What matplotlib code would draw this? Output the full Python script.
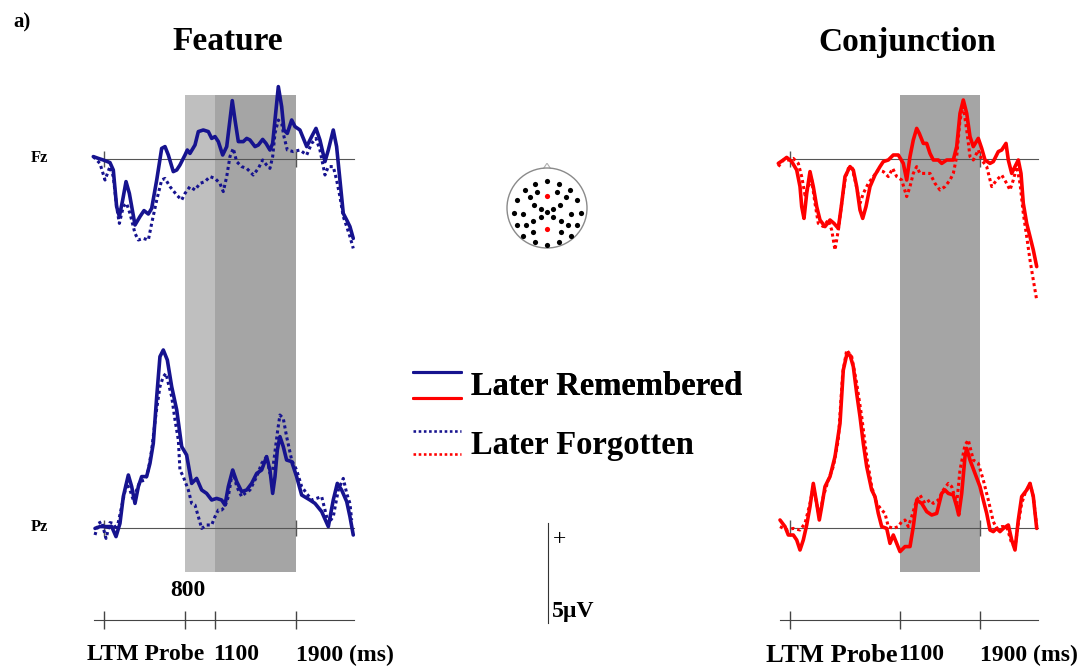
import matplotlib
matplotlib.use("Agg")
import matplotlib.pyplot as plt
from matplotlib.legend_handler import HandlerBase
from matplotlib.lines import Line2D
from matplotlib.patches import Circle, Polygon

plt.rcParams["font.family"] = ["Liberation Serif", "DejaVu Serif"]
plt.rcParams["font.weight"] = "bold"

# Grand-average ERPs (ms, microvolts), positive up
feat_fz_rem_t = [-106, -56, -7, 59, 92, 125, 152, 185, 218, 251, 307, 356, 396, 439, 472, 522, 571, 604, 637,
                 686, 720, 752, 802, 825, 851, 901, 934, 983, 1033, 1066, 1099, 1132, 1175, 1215, 1247, 1270,
                 1297, 1330, 1379, 1413, 1445, 1495, 1528, 1571, 1604, 1643, 1670, 1693, 1726, 1759, 1782, 1815,
                 1858, 1891, 1940, 2007, 2056, 2099, 2138, 2188, 2221, 2270, 2303, 2336, 2369, 2403, 2435, 2468]
feat_fz_rem_uv = [0.12, 0.03, -0.05, -0.18, -0.55, -2.38, -2.88, -2.05, -1.13, -1.72, -3.3, -2.88, -2.58, -2.75,
                  -2.47, -1.05, 0.53, 0.62, 0.2, -0.63, -0.55, -0.3, 0.2, 0.45, 0.28, 0.7, 1.37, 1.45, 1.37, 1.03,
                  1.12, 0.87, 0.2, 0.62, 1.95, 2.92, 1.95, 0.87, 0.87, 1.03, 0.95, 0.62, 0.7, 0.98, 0.78, 0.45,
                  0.78, 1.95, 3.62, 2.62, 1.45, 1.28, 1.95, 1.62, 1.45, 0.62, 1.12, 1.53, 0.95, -0.13, 0.45, 1.45,
                  0.62, -1.05, -2.72, -3.05, -3.38, -3.97]
feat_fz_fgt_t = [-106, -40, 10, 59, 92, 125, 152, 191, 224, 257, 307, 340, 389, 439, 472, 522, 571, 604, 653,
                 720, 769, 802, 851, 901, 950, 1000, 1049, 1099, 1148, 1181, 1215, 1247, 1280, 1313, 1363, 1413,
                 1478, 1528, 1571, 1610, 1643, 1670, 1693, 1726, 1759, 1782, 1815, 1874, 1940, 2007, 2056, 2099,
                 2138, 2188, 2221, 2270, 2303, 2336, 2369, 2403, 2435, 2468]
feat_fz_fgt_uv = [0.12, -0.22, -1.05, -0.38, -0.88, -2.38, -3.22, -2.38, -2.22, -2.72, -3.72, -4.05, -3.97, -4.05,
                  -3.22, -2.05, -1.05, -0.97, -1.38, -1.8, -2.05, -1.72, -1.38, -1.55, -1.22, -1.13, -0.88, -0.97,
                  -1.22, -1.63, -0.88, 0.12, 0.53, -0.13, -0.38, -0.47, -0.8, -0.47, -0.05, -0.3, -0.47, 0.12,
                  1.28, 1.95, 1.78, 1.12, 0.45, 0.37, 0.45, 0.2, 0.78, 1.03, 0.45, -0.8, -0.38, -0.38, -1.05,
                  -1.88, -2.88, -3.38, -3.88, -4.47]

feat_pz_rem_t = [-89, -40, 10, 76, 119, 158, 191, 241, 274, 307, 340, 373, 422, 455, 488, 522, 554, 587, 627,
                 670, 720, 769, 818, 868, 917, 967, 1016, 1066, 1115, 1165, 1198, 1231, 1274, 1314, 1363, 1413,
                 1462, 1512, 1561, 1610, 1643, 1670, 1693, 1716, 1742, 1775, 1808, 1858, 1907, 1957, 2039, 2089,
                 2155, 2221, 2270, 2310, 2353, 2403, 2435, 2468]
feat_pz_rem_uv = [-0.02, 0.07, 0.07, 0.07, -0.43, 0.23, 1.57, 2.65, 2.07, 1.23, 2.07, 2.57, 2.57, 3.23, 4.23,
                  6.57, 8.57, 8.9, 8.4, 7.07, 5.9, 4.07, 3.65, 2.23, 2.48, 1.9, 1.73, 1.4, 1.48, 1.4, 1.15, 2.07,
                  2.9, 2.32, 1.82, 1.9, 2.23, 2.73, 2.9, 3.57, 2.9, 1.73, 2.57, 3.9, 4.57, 4.07, 3.4, 3.32, 2.57,
                  1.65, 1.4, 1.23, 0.82, 0.07, 1.4, 2.23, 1.9, 1.32, 0.57, -0.35]
feat_pz_fgt_t = [-89, -56, -23, 20, 59, 92, 125, 175, 224, 257, 290, 323, 356, 406, 439, 472, 515, 554, 587,
                 614, 637, 670, 703, 736, 752, 785, 835, 868, 901, 934, 967, 1016, 1066, 1099, 1132, 1165, 1198,
                 1231, 1274, 1314, 1363, 1396, 1445, 1478, 1512, 1561, 1610, 1643, 1670, 1720, 1742, 1775, 1808,
                 1858, 1907, 1957, 2006, 2056, 2105, 2155, 2221, 2270, 2320, 2369, 2403, 2435, 2452]
feat_pz_fgt_uv = [-0.35, 0.23, 0.32, -0.52, 0.27, 0.23, -0.1, 1.07, 2.23, 1.9, 1.4, 1.9, 2.32, 2.4, 2.9, 3.9,
                  5.73, 7.07, 7.57, 7.73, 7.23, 6.57, 5.4, 4.4, 2.9, 2.57, 1.9, 1.23, 1.15, 0.57, -0.02, 0.15,
                  0.15, 0.57, 0.9, 0.9, 1.07, 1.57, 2.9, 2.07, 1.57, 1.73, 1.9, 2.23, 2.57, 3.23, 3.57, 2.73,
                  2.9, 4.9, 5.65, 5.48, 4.57, 3.4, 2.9, 2.07, 1.73, 1.4, 1.48, 1.57, 0.23, 0.57, 1.9, 2.48, 1.73,
                  1.23, 0.4]

conj_fz_rem_t = [-117, -67, -33, 17, 67, 100, 117, 140, 167, 200, 233, 267, 300, 350, 400, 440, 483, 517, 550,
                 600, 633, 667, 700, 727, 760, 800, 850, 900, 933, 983, 1033, 1083, 1133, 1167, 1200, 1233, 1267,
                 1293, 1333, 1367, 1400, 1433, 1483, 1517, 1567, 1633, 1667, 1700, 1733, 1767, 1800, 1833, 1883,
                 1917, 1950, 2000, 2033, 2083, 2117, 2160, 2183, 2217, 2250, 2283, 2310, 2333, 2367, 2400, 2433,
                 2467]
conj_fz_rem_uv = [-0.22, -0.05, 0.08, -0.13, -0.55, -1.38, -2.38, -2.97, -1.72, -0.63, -1.38, -2.38, -3.05,
                  -3.38, -3.05, -3.22, -3.47, -2.22, -0.88, -0.38, -0.55, -1.38, -2.55, -2.97, -2.38, -1.38, -0.8,
                  -0.38, -0.13, -0.05, 0.2, 0.2, -0.22, -1.05, 0.12, 0.95, 1.53, 1.28, 0.78, 0.78, 0.28, -0.05,
                  -0.05, -0.22, -0.05, -0.05, 0.62, 2.28, 2.95, 2.28, 1.12, 0.62, 1.03, 0.53, -0.05, -0.22, -0.13,
                  0.37, 0.45, 0.78, -0.05, -0.72, -0.38, -0.05, -0.72, -2.22, -3.22, -3.88, -4.55, -5.38]
conj_fz_fgt_t = [-117, -67, -17, 33, 83, 117, 150, 183, 217, 250, 283, 333, 383, 417, 450, 483, 517, 550, 583,
                 617, 650, 700, 733, 783, 833, 883, 933, 983, 1027, 1067, 1117, 1167, 1200, 1233, 1267, 1300,
                 1350, 1400, 1450, 1500, 1550, 1600, 1633, 1667, 1700, 1733, 1767, 1800, 1833, 1883, 1917, 1967,
                 2017, 2067, 2117, 2167, 2200, 2233, 2267, 2300, 2333, 2367, 2400, 2433, 2467]
conj_fz_fgt_uv = [-0.38, -0.05, -0.05, 0.03, -0.22, -0.88, -1.8, -1.38, -1.05, -2.22, -3.22, -3.38, -3.05,
                  -3.55, -4.55, -3.55, -2.22, -1.05, -0.47, -0.38, -1.05, -2.22, -1.72, -1.22, -0.88, -0.55,
                  -0.63, -0.88, -0.47, -0.88, -1.05, -1.88, -1.38, -0.72, -0.38, -0.72, -0.72, -0.72, -1.22,
                  -1.55, -1.38, -1.05, -0.72, 0.12, 1.95, 2.62, 1.45, 0.12, -0.05, 0.45, -0.05, -0.38, -1.38,
                  -1.05, -0.8, -1.22, -1.55, -1.05, -0.38, -1.22, -2.72, -3.88, -5.05, -6.05, -7.05]

conj_pz_rem_t = [-100, -50, -17, 33, 67, 100, 133, 167, 200, 233, 267, 293, 317, 350, 400, 450, 500, 533, 567,
                 600, 633, 667, 700, 733, 767, 817, 850, 883, 917, 967, 1000, 1033, 1067, 1100, 1150, 1200, 1233,
                 1267, 1317, 1367, 1417, 1467, 1517, 1550, 1583, 1633, 1667, 1687, 1717, 1750, 1767, 1800, 1850,
                 1900, 1933, 1967, 2000, 2033, 2067, 2100, 2133, 2183, 2217, 2250, 2283, 2317, 2367, 2400, 2433,
                 2467]
conj_pz_rem_uv = [0.4, 0.07, -0.35, -0.35, -0.6, -1.1, -0.6, 0.15, 1.07, 2.23, 1.23, 0.4, 1.07, 2.07, 2.57,
                  3.57, 5.23, 7.9, 8.65, 8.65, 8.07, 6.73, 5.57, 4.23, 3.07, 1.9, 1.57, 0.73, 0.07, -0.02, -0.77,
                  -0.35, -0.77, -1.18, -0.93, -0.93, 0.07, 1.4, 1.23, 0.82, 0.65, 0.73, 1.73, 1.9, 1.73, 1.65,
                  1.07, 0.65, 1.73, 3.57, 3.98, 3.4, 2.73, 2.07, 1.4, 0.73, -0.1, -0.18, -0.02, -0.18, -0.02,
                  0.15, -0.6, -1.1, 0.4, 1.57, 1.9, 2.23, 1.57, -0.02]
conj_pz_fgt_t = [-100, -33, 33, 100, 150, 200, 233, 267, 293, 333, 383, 433, 483, 527, 567, 617, 667, 717, 767,
                 817, 867, 917, 950, 983, 1033, 1083, 1117, 1150, 1183, 1217, 1267, 1300, 1350, 1400, 1433, 1483,
                 1533, 1583, 1617, 1667, 1700, 1750, 1783, 1833, 1883, 1933, 1983, 2033, 2067, 2117, 2167, 2217,
                 2250, 2283, 2317, 2350, 2400, 2433, 2467]
conj_pz_fgt_uv = [0.07, -0.1, -0.02, -0.1, 0.23, 1.23, 2.07, 1.23, 0.57, 1.57, 2.4, 3.07, 4.4, 7.73, 8.9, 8.57,
                  7.23, 5.57, 3.57, 2.07, 1.23, 0.9, 0.73, 0.07, -0.02, 0.07, 0.32, 0.4, 0.07, 0.57, 1.4, 1.65,
                  1.23, 1.4, 1.23, 1.4, 1.9, 2.23, 2.07, 1.23, 2.9, 4.15, 4.4, 3.4, 3.23, 2.4, 1.4, 0.32, -0.02,
                  0.07, 0.07, -0.77, -0.93, 0.23, 1.23, 1.73, 2.23, 1.57, 0.07]

# Analysis windows (ms)
feat_windows = [(800, 1100), (1100, 1900)]
conj_windows = [(1100, 1900)]
feat_ticks = [0, 800, 1100, 1900]
conj_ticks = [0, 1100, 1900]

# Electrode montage on the head map, red marks Fz and Pz
elec_x = [0.0, -0.29, 0.30, -0.56, 0.57, -0.25, 0.25, -0.43, 0.48, -0.74, 0.75, -0.33, 0.33, -0.16, 0.16,
          -0.82, -0.60, 0.0, 0.61, 0.84, -0.16, 0.16, -0.34, 0.35, -0.75, -0.53, 0.53, 0.75, -0.35, 0.35,
          -0.60, 0.59, -0.29, 0.0, 0.30]
elec_y = [0.68, 0.60, 0.61, 0.45, 0.45, 0.39, 0.41, 0.27, 0.27, 0.19, 0.19, 0.08, 0.08, -0.02, -0.02,
          -0.12, -0.16, -0.11, -0.16, -0.12, -0.22, -0.22, -0.33, -0.33, -0.43, -0.43, -0.43, -0.43, -0.59,
          -0.59, -0.70, -0.70, -0.86, -0.92, -0.86]
fz_pz_x = [0.0, 0.0]
fz_pz_y = [0.29, -0.52]

scale_uv = 5

BLUE = "#16138f"
RED = "#ff0000"
LIGHT = "#bfbfbf"
DARK = "#a5a5a5"
AXIS_GREY = "#555555"

W, H = 1085, 666
UV_PX = 20  # pixels per microvolt
T_MIN, T_MAX = -150, 2520


def box(x0, y0, x1, y1):
    # pixel rectangle (top-left origin) -> figure fraction
    return [x0 / W, 1 - y1 / H, (x1 - x0) / W, (y1 - y0) / H]


class PairHandler(HandlerBase):
    # draws the blue and red line of one condition stacked above each other
    def __init__(self, gap):
        super().__init__()
        self.gap = gap

    def create_artists(self, legend, orig_handle, xdescent, ydescent, width, height, fontsize, trans):
        artists = []
        for i, handle in enumerate(orig_handle):
            y = height + 0.5 - i * self.gap
            line = Line2D([-xdescent, width - xdescent], [y, y])
            line.update_from(handle)
            line.set_clip_box(None)
            line.set_clip_on(False)
            line.set_linewidth(handle.get_linewidth() * 0.85)
            line.set_transform(trans)
            artists.append(line)
        return artists


def draw_condition(fig, zero_px, px_per_ms, color, traces, windows, ticks, probe_size):
    x0 = zero_px + T_MIN * px_per_ms
    x1 = zero_px + T_MAX * px_per_ms

    shade_ax = fig.add_axes(box(x0, 95, x1, 572))
    shade_ax.set_xlim(T_MIN, T_MAX)
    shades = [LIGHT, DARK] if len(windows) == 2 else [DARK]
    for (start, stop), shade in zip(windows, shades):
        shade_ax.axvspan(start, stop, color=shade, lw=0)
    shade_ax.axis("off")

    handles = []
    for base_py, (lo, hi), (t_rem, v_rem, t_fgt, v_fgt) in zip([159, 528], [(-8, 5), (-3, 10)], traces):
        ax = fig.add_axes(box(x0, base_py - hi * UV_PX, x1, base_py - lo * UV_PX))
        ax.patch.set_visible(False)
        ax.set_xlim(T_MIN, T_MAX)
        ax.set_ylim(lo, hi)
        rem, = ax.plot(t_rem, v_rem, color=color, lw=2.6, zorder=3,
                       solid_joinstyle="round", solid_capstyle="round")
        fgt, = ax.plot(t_fgt, v_fgt, color=color, lw=2.2, ls=(0, (1, 1)), zorder=3)
        for side in ("top", "left", "right"):
            ax.spines[side].set_visible(False)
        ax.spines["bottom"].set_position(("data", 0))
        ax.spines["bottom"].set_bounds(0, 2480)
        ax.spines["bottom"].set_color(AXIS_GREY)
        ax.set_xticks([0, 1900])
        ax.set_yticks([])
        ax.tick_params(axis="x", direction="inout", length=11, width=1, color=AXIS_GREY, labelbottom=False)
        handles.append((rem, fgt))

    # time axis under the waveforms
    tax = fig.add_axes(box(x0, 600, x1, 640))
    tax.patch.set_visible(False)
    tax.set_xlim(T_MIN, T_MAX)
    tax.set_ylim(0, 1)
    for side in ("top", "left", "right"):
        tax.spines[side].set_visible(False)
    tax.spines["bottom"].set_position(("axes", 0.5))
    tax.spines["bottom"].set_bounds(-100, 2480)
    tax.spines["bottom"].set_color("#444444")
    tax.set_xticks(ticks)
    tax.set_yticks([])
    tax.tick_params(axis="x", direction="inout", length=13, width=1, color="#444444", labelbottom=False)
    tr = tax.get_xaxis_transform()
    tax.text(415, -0.375, "LTM Probe", transform=tr, ha="center", va="center", fontsize=probe_size)
    tax.text(1080, -0.375, "1100", transform=tr, ha="left", va="center", fontsize=17)
    tax.text(1900, -0.375, "1900 (ms)", transform=tr, ha="left", va="center", fontsize=17)
    if 800 in ticks:
        tax.text(830, 1.25, "800", transform=tr, ha="center", va="center", fontsize=17)
    return handles


fig = plt.figure(figsize=(W / 100, H / 100), dpi=100)

feat_handles = draw_condition(
    fig, 104, 0.101, BLUE,
    [(feat_fz_rem_t, feat_fz_rem_uv, feat_fz_fgt_t, feat_fz_fgt_uv),
     (feat_pz_rem_t, feat_pz_rem_uv, feat_pz_fgt_t, feat_pz_fgt_uv)],
    feat_windows, feat_ticks, 17)
conj_handles = draw_condition(
    fig, 790, 0.100, RED,
    [(conj_fz_rem_t, conj_fz_rem_uv, conj_fz_fgt_t, conj_fz_fgt_uv),
     (conj_pz_rem_t, conj_pz_rem_uv, conj_pz_fgt_t, conj_pz_fgt_uv)],
    conj_windows, conj_ticks, 19)

fig.text(22 / W, 1 - 22 / H, "a)", ha="center", va="center", fontsize=15)
fig.text(228 / W, 1 - 42 / H, "Feature", ha="center", va="center", fontsize=24)
fig.text(907 / W, 1 - 42 / H, "Conjunction", ha="center", va="center", fontsize=24)
fig.text(39 / W, 1 - 158 / H, "Fz", ha="center", va="center", fontsize=12)
fig.text(39 / W, 1 - 527 / H, "Pz", ha="center", va="center", fontsize=12)

# head map with electrode layout
head = fig.add_axes(box(502, 163, 592, 253))
head.set_xlim(-1.125, 1.125)
head.set_ylim(-1.125, 1.125)
head.set_aspect("equal")
head.axis("off")
head.add_patch(Polygon([(-0.09, 0.985), (0, 1.12), (0.09, 0.985)], closed=False,
                       fill=False, edgecolor="#b0b0b0", lw=0.8))
head.add_patch(Circle((0, 0), 1, fill=False, edgecolor="#8a8a8a", lw=1.0))
head.scatter(elec_x, elec_y, s=14, color="black", lw=0)
head.scatter(fz_pz_x, fz_pz_y, s=14, color=RED, lw=0)

# amplitude scale bar
sax = fig.add_axes(box(540, 515, 600, 630))
sax.patch.set_visible(False)
sax.set_xlim(0, 60)
sax.set_ylim(-(630 - 523) / UV_PX, (523 - 515) / UV_PX)
for side in ("top", "bottom", "right"):
    sax.spines[side].set_visible(False)
sax.spines["left"].set_position(("data", 8))
sax.spines["left"].set_bounds(-scale_uv, 0)
sax.spines["left"].set_color("#333333")
sax.set_xticks([])
sax.set_yticks([])
sax.text(20, -0.85, "+", ha="center", va="center", fontsize=17, fontweight="normal")
sax.text(12, -scale_uv + 0.55, "5\u00b5V", ha="left", va="center", fontsize=17)

legend_style = dict(loc="upper left", frameon=False, fontsize=23.5, handlelength=1.45,
                    handletextpad=0.32, borderpad=0)
leg_rem = fig.legend(handles=[(feat_handles[0][0], conj_handles[0][0])], labels=["Later Remembered"],
                     handler_map={tuple: PairHandler(19)}, bbox_to_anchor=(397 / W, 1 - 355 / H),
                     **legend_style)
fig.legend(handles=[(feat_handles[0][1], conj_handles[0][1])], labels=["Later Forgotten"],
           handler_map={tuple: PairHandler(16.5)}, bbox_to_anchor=(397 / W, 1 - 414 / H),
           **legend_style)
fig.add_artist(leg_rem)

fig.savefig("out.png", dpi=100)
